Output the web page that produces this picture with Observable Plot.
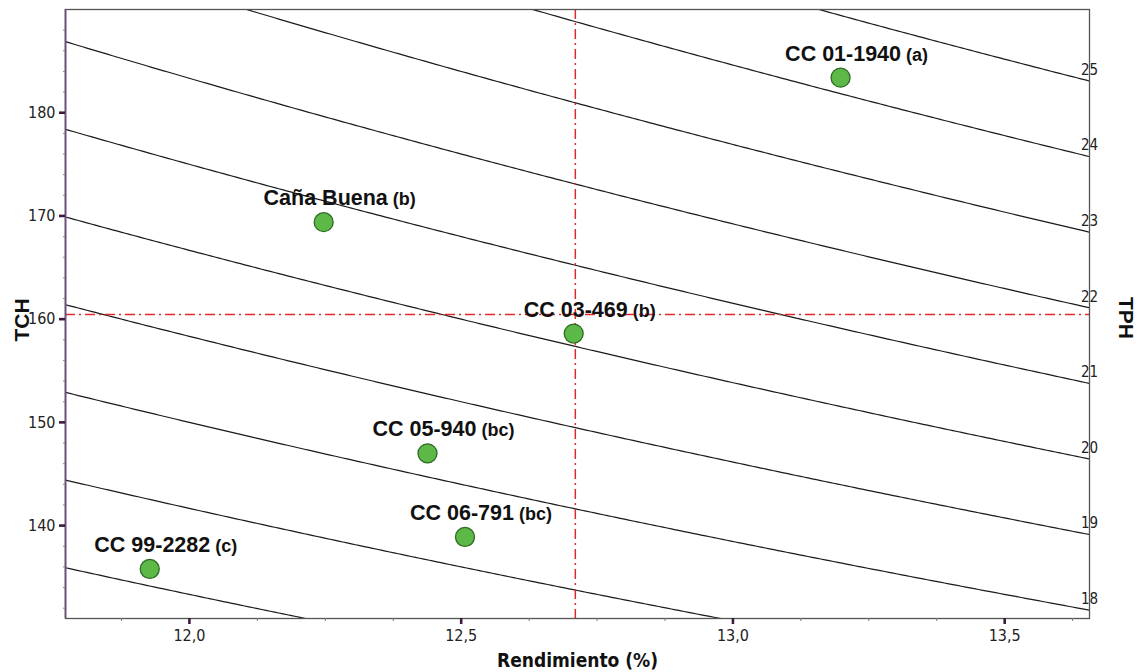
<!DOCTYPE html>
<html><head><meta charset="utf-8">
<script src="https://cdn.jsdelivr.net/npm/d3@7"></script>
<script src="https://cdn.jsdelivr.net/npm/@observablehq/plot@0.6"></script>
<style>body{margin:0;background:#fff;} #chart svg{display:block;}</style>
</head><body><div id="chart"></div>
<script>
// ---- data ----
const varieties   = ["CC 01-1940", "Caña Buena", "CC 03-469", "CC 05-940", "CC 06-791", "CC 99-2282"];
const grupos      = ["(a)", "(b)", "(b)", "(bc)", "(bc)", "(c)"];
const rendimiento = [13.198, 12.247, 12.707, 12.438, 12.507, 11.927];
const tch         = [183.4, 169.4, 158.6, 147.0, 138.9, 135.8];
const tphLevels   = [16, 17, 18, 19, 20, 21, 22, 23, 24, 25];
const tphLabeled  = [18, 19, 20, 21, 22, 23, 24, 25];
const refRend = [12.71];
const refTCH  = [160.45];
const xTicks = [12.0, 12.5, 13.0, 13.5];
const xMinorTicks = [11.875, 12.125, 12.25, 12.375, 12.625, 12.75, 12.875, 13.125, 13.25, 13.375, 13.625];
const yTicks = [140, 150, 160, 170, 180];
const yMinorTicks = [132, 134, 136, 138, 142, 144, 146, 148, 152, 154, 156, 158, 162, 164, 166, 168, 172, 174, 176, 178, 182, 184, 186, 188];
const xDomain = [11.772, 13.656];
const yDomain = [131, 190];

// ---- derived tables ----
const points = varieties.map((name, i) => ({name, grupo: grupos[i], rend: rendimiento[i], tch: tch[i]}));
const N = 240;
const isolines = tphLevels.flatMap(t => d3.range(N + 1).map(i => {
  const r = xDomain[0] + (xDomain[1] - xDomain[0]) * i / N;
  return {tph: t, rend: r, tch: t * 100 / r};
}));
const isoLabels = tphLabeled.map(t => ({tph: t, rend: xDomain[1], tch: t * 100 / xDomain[1]}));

const SANS = "'Liberation Sans', Arial, Helvetica, sans-serif";
const NARROW = "'Liberation Sans Narrow', 'Arial Narrow', 'DejaVu Sans Condensed', sans-serif";
const fmt = d => d.toFixed(1).replace(".", ",");

const ctx = document.createElement("canvas").getContext("2d");
const measure = (t, font) => { ctx.font = font; return ctx.measureText(t).width; };

const labelMarks = points.flatMap(p => {
  const wn = measure(p.name, "bold 21.5px " + SANS);
  const ws = measure(p.grupo, "bold 18px " + SANS);
  const gap = 5;
  const start = 16 - (wn + gap + ws) / 2;
  return [
    Plot.text([p], {x: "rend", y: "tch", text: "name", textAnchor: "start", lineAnchor: "bottom",
      dx: start, dy: -17, fontSize: 21.5, fontWeight: "bold", fill: "#111", fontFamily: SANS}),
    Plot.text([p], {x: "rend", y: "tch", text: "grupo", textAnchor: "start", lineAnchor: "bottom",
      dx: start + wn + gap, dy: -17, fontSize: 18, fontWeight: "bold", fill: "#111", fontFamily: SANS})
  ];
});

const chart = Plot.plot({
  width: 1138,
  height: 672,
  marginLeft: 65,
  marginRight: 49,
  marginTop: 9,
  marginBottom: 54,
  style: {fontFamily: SANS, background: "#fff", color: "#222"},
  x: {domain: xDomain},
  y: {domain: yDomain},
  marks: [
    Plot.line(isolines, {x: "rend", y: "tch", z: "tph", stroke: "#1a1a1a", strokeWidth: 1.2, clip: true}),
    Plot.ruleX(refRend, {stroke: "#e3282b", strokeWidth: 1.5, strokeDasharray: "10,4,2,4"}),
    Plot.ruleY(refTCH, {stroke: "#e3282b", strokeWidth: 1.5, strokeDasharray: "10,4,2,4"}),
    Plot.dot(points, {x: "rend", y: "tch", r: 9.5, fill: "#5cb947", stroke: "#2e6a22", strokeWidth: 1.3}),
    ...labelMarks,
    Plot.text(isoLabels, {x: "rend", y: "tch", text: d => String(d.tph), textAnchor: "middle", lineAnchor: "middle",
      dy: -11, fontSize: 15, fill: "#222", fontFamily: NARROW}),
    Plot.frame({stroke: "#555", strokeWidth: 1.3}),
    Plot.ruleX([xDomain[0]], {stroke: "#6e4d78", strokeWidth: 1.8}),
    Plot.axisX(xMinorTicks, {tickSize: 3, text: null, stroke: "#777", strokeWidth: 1, label: null}),
    Plot.axisX(xTicks, {tickSize: 6, tickPadding: 5, tickFormat: fmt, stroke: "#3d1b40", strokeWidth: 2.6,
      fontSize: 16, fontFamily: NARROW, fill: "#222", label: null}),
    Plot.axisY(yMinorTicks, {tickSize: 2, text: null, stroke: "#888", strokeWidth: 1, label: null}),
    Plot.axisY(yTicks, {tickSize: 6, tickPadding: 4, stroke: "#3d1b40", strokeWidth: 2.6,
      fontSize: 16, fontFamily: NARROW, fill: "#222", label: null}),
    Plot.text(["TCH"], {frameAnchor: "left", dx: -43, dy: 6, rotate: -90, textAnchor: "middle", lineAnchor: "middle",
      fontSize: 21, fontWeight: "bold", fill: "#111"}),
    Plot.text(["TPH"], {frameAnchor: "right", dx: 36, dy: 4, rotate: 90, textAnchor: "middle", lineAnchor: "middle",
      fontSize: 21, fontWeight: "bold", fill: "#111"}),
    Plot.text(["Rendimiento (%)"], {frameAnchor: "bottom", dy: 42, textAnchor: "middle", lineAnchor: "middle",
      fontSize: 19, fontWeight: "bold", fill: "#111", fontFamily: NARROW})
  ]
});
document.getElementById("chart").appendChild(chart);
</script>
</body></html>
